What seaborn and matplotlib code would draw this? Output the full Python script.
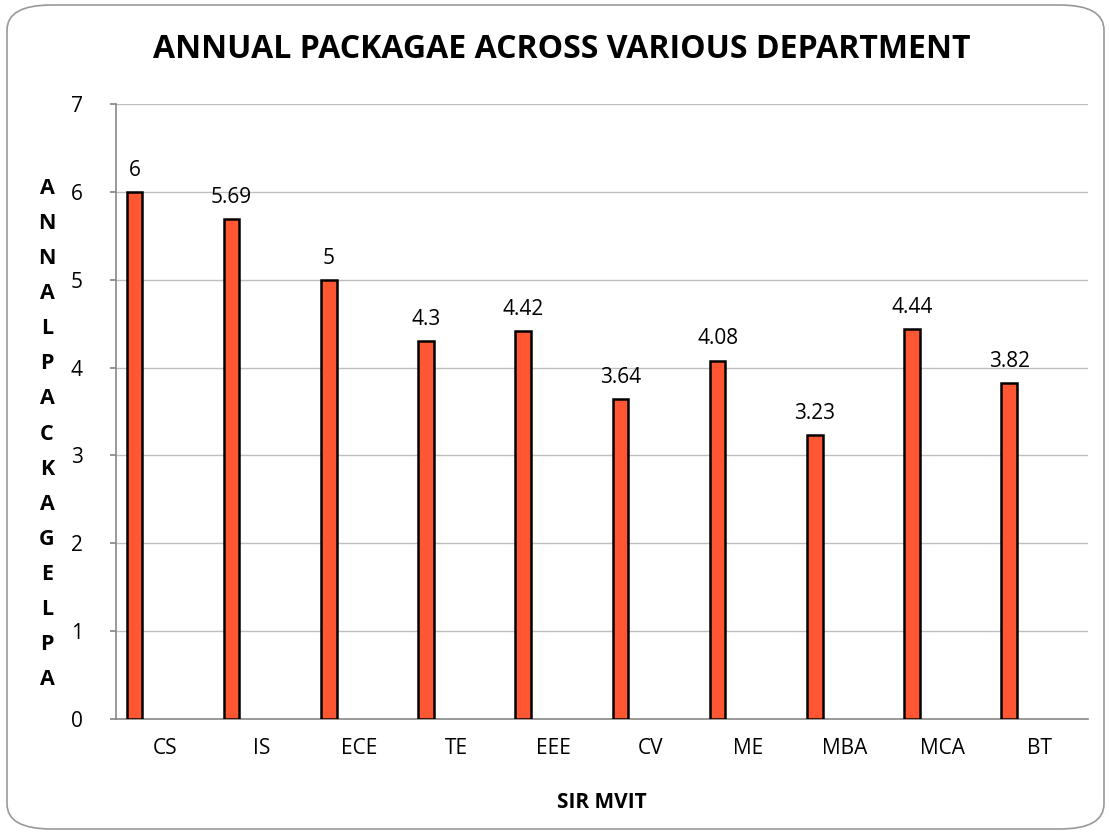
import numpy as np
import matplotlib.pyplot as plt
import seaborn as sns
from matplotlib.patches import FancyBboxPatch

departments = ['CS', 'IS', 'ECE', 'TE', 'EEE', 'CV', 'ME', 'MBA', 'MCA', 'BT']
packages = [6, 5.69, 5, 4.3, 4.42, 3.64, 4.08, 3.23, 4.44, 3.82]
value_labels = ['6', '5.69', '5', '4.3', '4.42', '3.64', '4.08', '3.23', '4.44', '3.82']
y_label = 'ANNALPACKAGELPA'

sns.set_theme(style='white')
plt.rcParams['font.family'] = ['Open Sans', 'DejaVu Sans']
plt.rcParams['text.color'] = 'black'
plt.rcParams['xtick.color'] = 'black'
plt.rcParams['ytick.color'] = 'black'

fig = plt.figure(figsize=(11.09, 8.34), dpi=100)
ax = fig.add_axes([116 / 1109, 1 - 719 / 834, (1088 - 116) / 1109, (719 - 104) / 834])

# bars sit left of each category centre, like the excel clustered layout
pos = np.arange(len(departments)) - 0.31
sns.barplot(x=pos, y=packages, native_scale=True, width=0.16, color='#FF5733',
            edgecolor='black', linewidth=1.8, saturation=1, ax=ax, zorder=3)

for p, v, lab in zip(pos, packages, value_labels):
    ax.annotate(lab, (p, v), xytext=(0, 8), textcoords='offset points',
                ha='center', va='bottom', fontsize=15)

ax.set_xlim(-0.5, len(departments) - 0.5)
ax.set_ylim(0, 7)
ax.set_xticks(np.arange(len(departments)))
ax.set_xticklabels(departments, fontsize=15)
ax.set_yticks(range(0, 8))
ax.tick_params(axis='x', length=0, pad=14)
ax.tick_params(axis='y', length=4, color='#888888', labelcolor='black', direction='out',
               labelsize=15, pad=20, left=True)
ax.yaxis.grid(True, color='#BFBFBF', linewidth=1)
ax.set_axisbelow(True)
for side in ['top', 'right']:
    ax.spines[side].set_visible(False)
for side in ['left', 'bottom']:
    ax.spines[side].set_color('#888888')
    ax.spines[side].set_linewidth(1.2)
ax.set_xlabel('')
ax.set_ylabel('')

fig.text(562 / 1109, 1 - 49 / 834, 'ANNUAL PACKAGAE ACROSS VARIOUS DEPARTMENT',
         ha='center', va='center', fontsize=23, fontweight='bold')
fig.text(602 / 1109, 1 - 803 / 834, 'SIR MVIT', ha='center', va='center',
         fontsize=15, fontweight='bold')
fig.text(47 / 1109, 1 - 434 / 834, '\n'.join(y_label), ha='center', va='center',
         fontsize=15.5, fontweight='bold', linespacing=1.88)

border = FancyBboxPatch((7 / 1109, 5 / 834), 1 - 12 / 1109, 1 - 10 / 834,
                        boxstyle='round,pad=0,rounding_size=0.04', transform=fig.transFigure,
                        facecolor='none', edgecolor='#999999', linewidth=1.2, mutation_aspect=834 / 1109)
fig.patches.append(border)

fig.savefig('out.png', dpi=100)
